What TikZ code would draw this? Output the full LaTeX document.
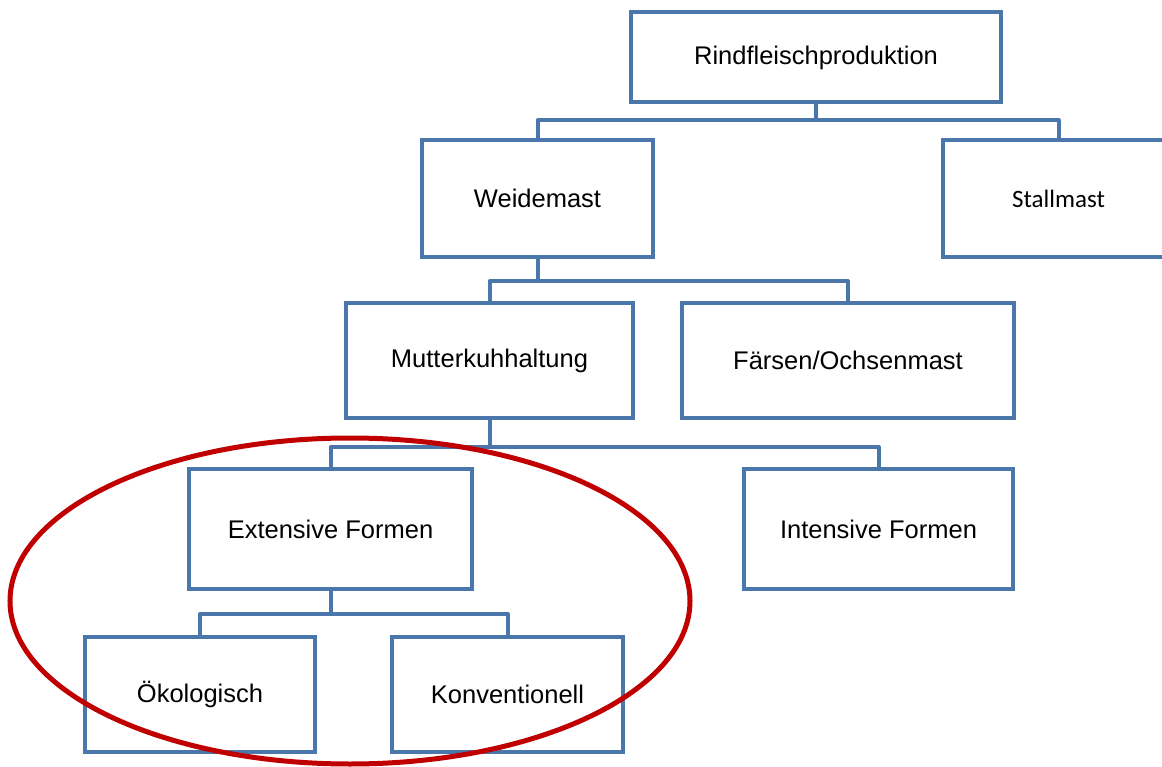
\documentclass[tikz,border=0pt]{standalone}
\usepackage{fontspec}
\setmainfont{Liberation Sans}
\newfontfamily\calfont{Carlito}
\definecolor{boxblue}{RGB}{74,118,172}
\definecolor{markred}{RGB}{192,0,0}
\begin{document}
\begin{tikzpicture}[x=1pt,y=-1pt,
  box/.style={draw=boxblue, line width=4pt, fill=white, rectangle, inner sep=0pt,
    font=\fontsize{25.5}{30}\selectfont, text=black},
  conn/.style={draw=boxblue, line width=4pt, line join=round}]
\useasboundingbox (0,0) rectangle (1162,767);
% nodes
\node[box, minimum width=370pt, minimum height=90pt] (rind) at (816,57.5) {Rindfleischproduktion};
\node[box, minimum width=231pt, minimum height=117pt] (weide) at (537.5,198.5) {Weidemast};
\node[box, minimum width=231pt, minimum height=117pt, font=\calfont\fontsize{25}{30}\selectfont] (stall) at (1058.5,198.5) {Stallmast};
\node[box, minimum width=287pt, minimum height=115pt] (mutter) at (489.5,360.5) {Mutterkuhhaltung};
\node[box, minimum width=332pt, minimum height=115pt] (faersen) at (848,360.5) {Färsen/Ochsenmast};
\node[box, minimum width=283pt, minimum height=120pt] (ext) at (330.5,529) {Extensive Formen};
\node[box, minimum width=269pt, minimum height=120pt] (int) at (878.5,529) {Intensive Formen};
\node[box, minimum width=230pt, minimum height=115pt] (oeko) at (200,694.5) {Ökologisch};
\node[box, minimum width=231pt, minimum height=115pt] (konv) at (507.5,694.5) {Konventionell};
% connectors
\draw[conn] (rind.south) -- ++(0,16) coordinate (j1);
\draw[conn] (weide.north) |- (j1) -| (stall.north);
\draw[conn] (weide.south) -- ++(0,22) coordinate (j2);
\draw[conn] (mutter.north) |- (j2) -| (faersen.north);
\draw[conn] (mutter.south) -- ++(0,27) coordinate (j3);
\draw[conn] (ext.north) |- (j3) -| (int.north);
\draw[conn] (ext.south) -- ++(0,23) coordinate (j4);
\draw[conn] (oeko.north) |- (j4) -| (konv.north);
% ellipse
\draw[markred, line width=5pt] (350,601) ellipse [x radius=340, y radius=163];
\end{tikzpicture}
\end{document}
